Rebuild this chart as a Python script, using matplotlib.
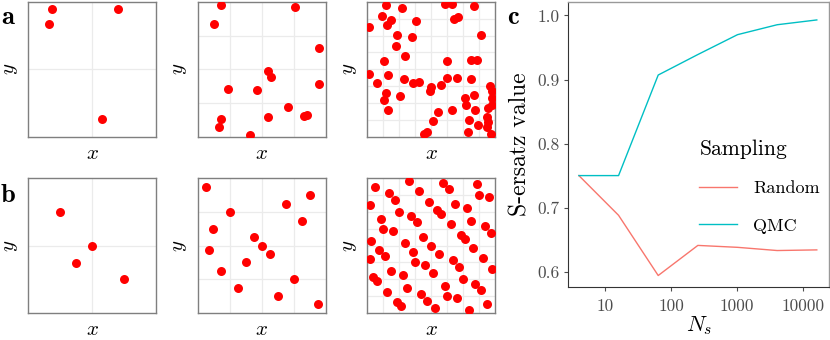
import matplotlib
matplotlib.use("Agg")
import matplotlib.pyplot as plt
from matplotlib.ticker import FixedLocator, NullFormatter, NullLocator

plt.rcParams["font.family"] = "cmr10"
plt.rcParams["mathtext.fontset"] = "cm"
plt.rcParams["axes.unicode_minus"] = False

# sample points (unit square)
rand4_x = [0.183, 0.164, 0.702, 0.572]
rand4_y = [0.945, 0.834, 0.945, 0.127]

rand16_x = [0.183, 0.760, 0.125, 0.945, 0.548, 0.574, 0.238, 0.467,
            0.945, 0.702, 0.548, 0.833, 0.851, 0.180, 0.167, 0.405]
rand16_y = [0.978, 0.963, 0.839, 0.660, 0.486, 0.442, 0.355, 0.347,
            0.387, 0.223, 0.146, 0.149, 0.161, 0.129, 0.069, 0.010]

rand64_x = [0.146, 0.273, 0.609, 0.664, 0.836, 0.112, 0.182, 0.156, 0.016, 0.383,
            0.680, 0.711, 0.885, 0.234, 0.346, 0.221, 0.294, 0.130, 0.625, 0.807,
            0.854, 0.013, 0.164, 0.073, 0.284, 0.354, 0.404, 0.625, 0.701, 0.810,
            0.573, 0.500, 0.487, 0.961, 0.971, 0.146, 0.128, 0.258, 0.760, 0.836,
            0.974, 0.771, 0.971, 0.161, 0.659, 0.549, 0.844, 0.945, 0.510, 0.794,
            0.938, 0.945, 0.867, 0.938, 0.469, 0.440, 0.784, 0.964]
rand64_y = [0.978, 0.955, 0.983, 0.983, 0.973, 0.898, 0.864, 0.831, 0.816, 0.859,
            0.873, 0.886, 0.757, 0.754, 0.737, 0.672, 0.596, 0.561, 0.561, 0.571,
            0.571, 0.462, 0.454, 0.400, 0.424, 0.397, 0.402, 0.437, 0.434, 0.424,
            0.385, 0.370, 0.337, 0.375, 0.342, 0.320, 0.275, 0.300, 0.288, 0.305,
            0.285, 0.236, 0.231, 0.194, 0.196, 0.179, 0.196, 0.213, 0.112, 0.124,
            0.144, 0.107, 0.087, 0.067, 0.037, 0.022, 0.030, 0.020]

qmc4_x = [0.248, 0.499, 0.373, 0.749]
qmc4_y = [0.751, 0.499, 0.373, 0.249]

qmc16_x = [0.063, 0.877, 0.689, 0.251, 0.815, 0.123, 0.439, 0.501,
           0.091, 0.561, 0.376, 0.185, 0.752, 0.311, 0.624, 0.940]
qmc16_y = [0.938, 0.874, 0.812, 0.751, 0.686, 0.622, 0.560, 0.499,
           0.469, 0.437, 0.375, 0.311, 0.249, 0.188, 0.123, 0.062]

qmc64_x = [0.060, 0.326, 0.589, 0.638, 0.859, 0.167, 0.216, 0.406, 0.872, 0.951,
           0.018, 0.484, 0.685, 0.779, 0.250, 0.542, 0.576, 0.341, 0.388, 0.109,
           0.810, 0.654, 0.919, 0.964, 0.125, 0.201, 0.732, 0.763, 0.435, 0.029,
           0.294, 0.497, 0.823, 0.089, 0.357, 0.141, 0.560, 0.023, 0.372, 0.451,
           0.667, 0.716, 0.904, 0.977, 0.185, 0.513, 0.279, 0.044, 0.076, 0.747,
           0.844, 0.888, 0.607, 0.310, 0.151, 0.419, 0.466, 0.622, 0.701, 0.229,
           0.266, 0.526, 0.792, 0.938]
qmc64_y = [0.938, 0.980, 0.968, 0.921, 0.956, 0.891, 0.842, 0.906, 0.877, 0.862,
           0.798, 0.825, 0.812, 0.780, 0.748, 0.763, 0.733, 0.719, 0.672, 0.701,
           0.686, 0.659, 0.642, 0.593, 0.622, 0.610, 0.580, 0.548, 0.560, 0.531,
           0.516, 0.499, 0.484, 0.467, 0.454, 0.420, 0.437, 0.400, 0.375, 0.356,
           0.390, 0.343, 0.405, 0.326, 0.314, 0.296, 0.279, 0.264, 0.237, 0.249,
           0.217, 0.173, 0.202, 0.188, 0.153, 0.138, 0.091, 0.123, 0.109, 0.077,
           0.047, 0.032, 0.022, 0.062]

# panel c
ns = [4, 16, 64, 256, 1024, 4096, 16384]
score_random = [0.750, 0.688, 0.594, 0.641, 0.638, 0.633, 0.634]
score_qmc = [0.750, 0.750, 0.907, 0.939, 0.970, 0.9855, 0.993]
x_ticks = [10, 100, 1000, 10000]
y_ticks = [0.6, 0.7, 0.8, 0.9, 1.0]

fig = plt.figure(figsize=(8.3, 3.4), dpi=100)

lefts = [28.3, 197.7, 367.3]
tops = [2, 178.3]
rows = [
    [(rand4_x, rand4_y, 2), (rand16_x, rand16_y, 4), (rand64_x, rand64_y, 8)],
    [(qmc4_x, qmc4_y, 2), (qmc16_x, qmc16_y, 4), (qmc64_x, qmc64_y, 8)],
]
for r, row in enumerate(rows):
    for c, (xs, ys, ngrid) in enumerate(row):
        ax = fig.add_axes([lefts[c] / 830, 1 - (tops[r] + 134.5) / 340, 128 / 830, 134.5 / 340])
        ax.set_xlim(0, 1)
        ax.set_ylim(0, 1)
        for k in range(1, ngrid):
            ax.axvline(k / ngrid, color="#EBEBEB", lw=0.9, zorder=0)
            ax.axhline(k / ngrid, color="#EBEBEB", lw=0.9, zorder=0)
        ax.scatter(xs, ys, s=42, color="#FF0000", linewidths=0, zorder=3)
        ax.xaxis.set_major_locator(NullLocator())
        ax.yaxis.set_major_locator(NullLocator())
        for sp in ax.spines.values():
            sp.set_color("#7F7F7F")
            sp.set_linewidth(1.0)
        ax.set_xlabel(r"$x$", fontsize=15, labelpad=6)
        ax.set_ylabel(r"$y$", fontsize=15, labelpad=6)

fig.text(1 / 830, 1 - 18 / 340, "a", fontfamily="cmb10", fontsize=19, va="center", ha="left")
fig.text(1 / 830, 1 - 195 / 340, "b", fontfamily="cmb10", fontsize=19, va="center", ha="left")
fig.text(507 / 830, 1 - 18 / 340, "c", fontfamily="cmb10", fontsize=19, va="center", ha="left")

axc = fig.add_axes([568.3 / 830, 1 - 287.3 / 340, 260.7 / 830, 285.3 / 340])
axc.plot(ns, score_random, color="#F8766D", lw=1.0, label="Random")
axc.plot(ns, score_qmc, color="#00BFC4", lw=1.0, label="QMC")
axc.set_xscale("log")
axc.set_xlim(2.76, 25100)
axc.set_ylim(0.5756, 1.021)
axc.xaxis.set_major_locator(FixedLocator(x_ticks))
axc.xaxis.set_minor_locator(NullLocator())
axc.xaxis.set_minor_formatter(NullFormatter())
axc.set_xticklabels([str(t) for t in x_ticks])
axc.set_yticks(y_ticks)
axc.set_yticklabels(["%.1f" % t for t in y_ticks])
axc.tick_params(colors="#4D4D4D", labelsize=12.5, length=3, width=0.8)
axc.tick_params(axis="x", pad=5)
for sp in ("top", "right"):
    axc.spines[sp].set_color("#999999")
    axc.spines[sp].set_linewidth(1.0)
for sp in ("left", "bottom"):
    axc.spines[sp].set_color("#333333")
    axc.spines[sp].set_linewidth(0.8)
axc.set_xlabel(r"$N_s$", fontsize=16, labelpad=0)
axc.set_ylabel("S-ersatz value", fontsize=17, labelpad=4)
leg = axc.legend(title="Sampling", loc="upper left", bbox_to_anchor=(0.44, 0.575),
                 frameon=False, fontsize=13, title_fontsize=15.5, handlelength=2.1,
                 labelspacing=1.2, handletextpad=0.9)
leg._legend_box.align = "left"

fig.savefig("out.png", dpi=100)
